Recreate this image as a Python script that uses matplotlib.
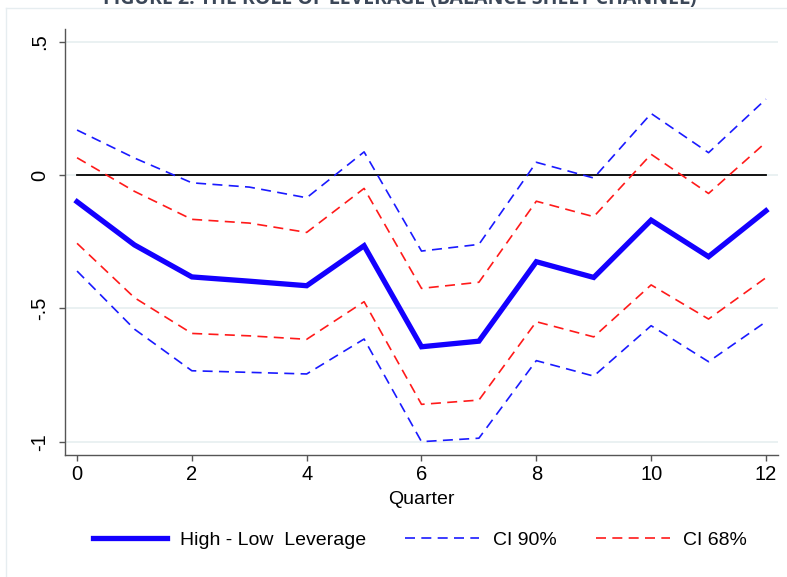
import matplotlib
matplotlib.use("Agg")
import matplotlib.pyplot as plt
from matplotlib.lines import Line2D

quarters = list(range(13))
diff = [-0.10, -0.262, -0.382, -0.398, -0.415, -0.265, -0.644, -0.623, -0.325, -0.384, -0.169, -0.306, -0.134]
ci90_up = [0.169, 0.064, -0.029, -0.045, -0.085, 0.087, -0.285, -0.26, 0.048, -0.011, 0.231, 0.084, 0.285]
ci90_lo = [-0.36, -0.578, -0.734, -0.74, -0.746, -0.615, -1.0, -0.987, -0.696, -0.754, -0.565, -0.70, -0.55]
ci68_up = [0.065, -0.061, -0.166, -0.18, -0.215, -0.05, -0.425, -0.402, -0.098, -0.156, 0.078, -0.069, 0.123]
ci68_lo = [-0.256, -0.46, -0.594, -0.603, -0.616, -0.475, -0.86, -0.844, -0.55, -0.607, -0.412, -0.54, -0.385]
yticks = [-1, -0.5, 0, 0.5]
ytick_labels = ["-1", "-.5", "0", ".5"]
xticks = [0, 2, 4, 6, 8, 10, 12]
title = "FIGURE 2: THE ROLE OF LEVERAGE (BALANCE SHEET CHANNEL)"

plt.rcParams['font.family'] = ['Liberation Sans', 'DejaVu Sans']

W, H = 787, 577
fig = plt.figure(figsize=(W / 100, H / 100), dpi=100)
fig.patch.set_facecolor('white')
ax = fig.add_axes([65 / W, (H - 455) / H, (778 - 65) / W, (455 - 29) / H])

ax.set_xlim(-0.21, 12.21)
ax.set_ylim(-1.05, 0.548)

for y in yticks:
    ax.axhline(y, color='#e8f0f1', lw=1.3, zorder=0)
ax.plot([0, 12], [0, 0], color='black', lw=1.3, zorder=2)

dash = (0, (6, 3.8))
ax.plot(quarters, ci90_up, color='#1a1aff', lw=1.2, linestyle=dash, zorder=3)
ax.plot(quarters, ci90_lo, color='#1a1aff', lw=1.2, linestyle=dash, zorder=3)
ax.plot(quarters, ci68_up, color='#ff1a1a', lw=1.2, linestyle=dash, zorder=3)
ax.plot(quarters, ci68_lo, color='#ff1a1a', lw=1.2, linestyle=dash, zorder=3)
ax.plot(quarters, diff, color='#1400ff', lw=3.8, zorder=4, solid_joinstyle='miter')

ax.spines['top'].set_visible(False)
ax.spines['right'].set_visible(False)
for s in ['left', 'bottom']:
    ax.spines[s].set_color('#555555')
    ax.spines[s].set_linewidth(1.0)

ax.set_yticks(yticks)
ax.set_yticklabels(ytick_labels, rotation=90, va='center')
ax.set_xticks(xticks)
ax.tick_params(axis='both', direction='out', length=4.5, width=1.0, color='#555555',
               labelsize=14.5, labelcolor='black')
ax.tick_params(axis='y', pad=7)
ax.tick_params(axis='x', pad=3)
ax.set_xlabel("Quarter", fontsize=14, labelpad=5)

handles = [
    Line2D([], [], color='#1400ff', lw=3.8),
    Line2D([], [], color='#1a1aff', lw=1.2, linestyle=dash),
    Line2D([], [], color='#ff1a1a', lw=1.2, linestyle=dash),
]
labels = ["High - Low  Leverage", "CI 90%", "CI 68%"]
fig.legend(handles, labels, loc='center', bbox_to_anchor=(420 / W, 1 - 540 / H),
           ncol=3, frameon=False, fontsize=14, handlelength=3.8, handletextpad=0.7,
           columnspacing=2.0)

# outer frame lines
fig.add_artist(Line2D([6 / W, 1], [1 - 8 / H, 1 - 8 / H], color='#e6edf0', lw=1.0,
                      transform=fig.transFigure))
fig.add_artist(Line2D([6 / W, 6 / W], [0, 1 - 8 / H], color='#e6edf0', lw=1.0,
                      transform=fig.transFigure))

# title, mostly cut off at top (as in the reference)
fig.text(400 / W, 1 - 4 / H, title, ha='center', va='baseline', fontsize=14,
         fontweight='bold', color='#3b4758', family=['Open Sans', 'DejaVu Sans'])

fig.savefig("out.png", dpi=100, facecolor='white')
